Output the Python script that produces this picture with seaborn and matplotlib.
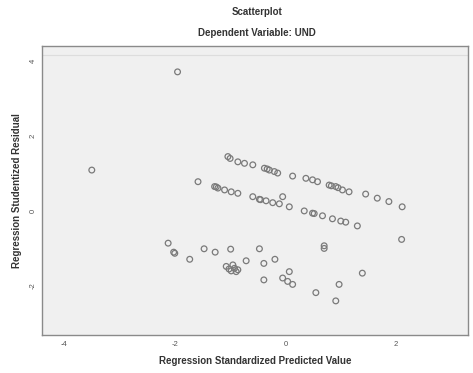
import matplotlib
matplotlib.use("Agg")
import matplotlib.pyplot as plt
import numpy as np
import pandas as pd
import seaborn as sns

# standardized predicted value (x) and studentized residual (y)
upper_x = [-1.04, -0.86, -0.74, -0.59, -0.38, -0.29, -0.20, -0.14, 0.13, 0.37,
           0.49, 0.58, 0.79, 0.91, 1.03, 1.15, 1.45, 1.66, 1.87, 2.11,
           -1.00, -0.33, 0.83, 0.95]
upper_y = [1.45, 1.31, 1.27, 1.23, 1.14, 1.09, 1.05, 1.01, 0.93, 0.87,
           0.83, 0.78, 0.69, 0.65, 0.56, 0.51, 0.45, 0.34, 0.25, 0.11,
           1.40, 1.12, 0.67, 0.62]
lower_x = [-1.58, -1.28, -1.22, -1.10, -0.98, -0.86, -0.59, -0.47, -0.35, -0.23,
           -0.11, -0.05, 0.07, 0.34, 0.49, 0.67, 0.85, 1.00, 1.09, 1.30,
           -1.25, -0.45, 0.52]
lower_y = [0.78, 0.65, 0.61, 0.56, 0.51, 0.47, 0.38, 0.31, 0.27, 0.22,
           0.19, 0.38, 0.11, 0.0, -0.06, -0.13, -0.21, -0.27, -0.30, -0.40,
           0.64, 0.30, -0.07]
cluster_x = [-2.12, -2.00, -1.73, -1.47, -1.27, -0.99, -0.71, -0.47, -0.19, -0.39,
             -1.07, -0.95, -0.89, -0.92, -0.86, -0.39, -0.05, 0.07, 0.04, 0.13,
             0.55, 0.70, 0.70, 0.97, 0.91, 1.39, 2.10, -1.02, -0.98, -2.02]
cluster_y = [-0.86, -1.13, -1.29, -1.01, -1.10, -1.02, -1.33, -1.01, -1.29, -1.40,
             -1.48, -1.44, -1.62, -1.53, -1.57, -1.84, -1.79, -1.62, -1.88, -1.96,
             -2.18, -0.93, -1.00, -1.96, -2.40, -1.66, -0.76, -1.55, -1.60, -1.10]
outlier_x = [-1.95, -3.50]
outlier_y = [3.71, 1.09]

x_ticks = [-4, -2, 0, 2]
y_ticks = [-2, 0, 2, 4]

df = pd.DataFrame({
    "pred": upper_x + lower_x + cluster_x + outlier_x,
    "resid": upper_y + lower_y + cluster_y + outlier_y,
})

sns.set_style("white")
plt.rcParams["font.family"] = ["Liberation Sans", "DejaVu Sans"]

fig = plt.figure(figsize=(4.73, 3.73), dpi=100)
ax = fig.add_axes([42 / 473, 1 - 335 / 373, 426 / 473, 289 / 373])
ax.set_facecolor("#f0f0f0")

sns.scatterplot(data=df, x="pred", y="resid", ax=ax, s=17, marker="o",
                facecolor="none", edgecolor="#7a7a7a", linewidth=0.9)

# pixel scale from the reference: 55.5 px per x unit, 37.5 px per y unit
ax.set_xlim(-4.4, 3.3)
ax.set_ylim(-3.31, 4.4)
ax.set_xticks(x_ticks)
ax.set_yticks(y_ticks)
ax.set_xticklabels([str(v) for v in x_ticks], fontsize=5.5, color="#555555")
ax.set_yticklabels([str(v) for v in y_ticks], fontsize=5.5, color="#555555", rotation=90, va="center")
ax.tick_params(direction="out", length=3, width=0.6, color="#777777", pad=1)

for sp in ax.spines.values():
    sp.set_color("#8a8a8a")
    sp.set_linewidth(1.0)
# faint inner border like the reference
ax.axhline(4.15, color="#dddddd", lw=0.8)

ax.set_xlabel("Regression Standardized Predicted Value", fontsize=7, fontweight="bold",
              color="#333333", labelpad=6)
ax.set_ylabel("Regression Studentized Residual", fontsize=7, fontweight="bold",
              color="#333333", labelpad=5)

fig.text(257 / 473, 1 - 12 / 373, "Scatterplot", ha="center", va="center",
         fontsize=7, fontweight="bold", color="#333333")
fig.text(257 / 473, 1 - 33 / 373, "Dependent Variable: UND", ha="center", va="center",
         fontsize=7, fontweight="bold", color="#333333")

fig.savefig("out.png", dpi=100)
